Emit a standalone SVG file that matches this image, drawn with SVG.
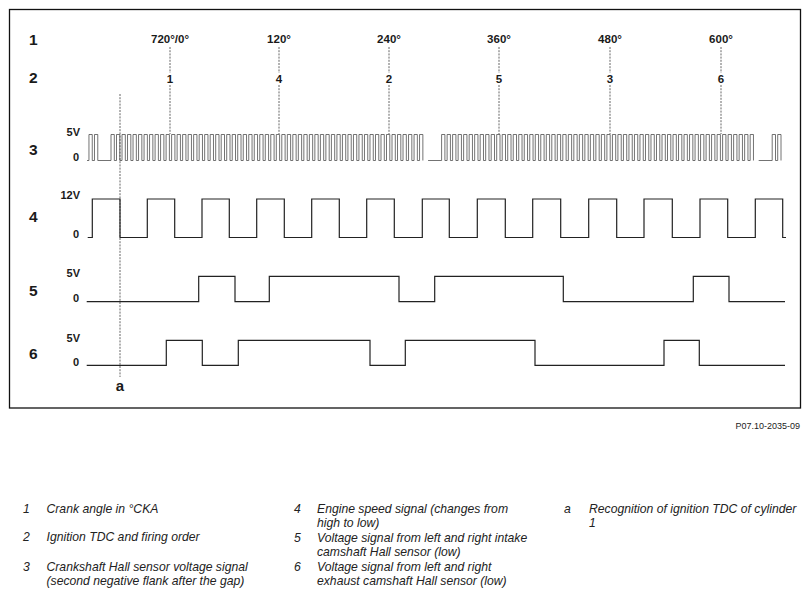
<svg xmlns="http://www.w3.org/2000/svg" xmlns:xlink="http://www.w3.org/1999/xlink" width="811" height="597" viewBox="0 0 811 597">
<style>
.lbl{font-family:"Liberation Sans",Arial,sans-serif;font-weight:bold;fill:#1a1a1a}
.row{font-size:15.5px}
.ang{font-size:11.5px;text-anchor:middle}
.volt{font-size:11px;text-anchor:end}
.leg{font-family:"Liberation Sans",Arial,sans-serif;font-style:italic;font-size:12.2px;fill:#222}
.sig{fill:none;stroke:#222;stroke-width:1.2;stroke-linejoin:miter}
.crank{fill:none;stroke:#444;stroke-width:0.75}
.dash{fill:none;stroke:#555;stroke-width:0.9;stroke-dasharray:2 1.2}
</style>
<defs>
<path id="teeth58" class="crank" d="M0,160.5v-26h3.3v26h2.21v-26h3.3v26h2.21v-26h3.3v26h2.21v-26h3.3v26h2.21v-26h3.3v26h2.21v-26h3.3v26h2.21v-26h3.3v26h2.21v-26h3.3v26h2.21v-26h3.3v26h2.21v-26h3.3v26h2.21v-26h3.3v26h2.21v-26h3.3v26h2.21v-26h3.3v26h2.21v-26h3.3v26h2.21v-26h3.3v26h2.21v-26h3.3v26h2.21v-26h3.3v26h2.21v-26h3.3v26h2.21v-26h3.3v26h2.21v-26h3.3v26h2.21v-26h3.3v26h2.21v-26h3.3v26h2.21v-26h3.3v26h2.21v-26h3.3v26h2.21v-26h3.3v26h2.21v-26h3.3v26h2.21v-26h3.3v26h2.21v-26h3.3v26h2.21v-26h3.3v26h2.21v-26h3.3v26h2.21v-26h3.3v26h2.21v-26h3.3v26h2.21v-26h3.3v26h2.21v-26h3.3v26h2.21v-26h3.3v26h2.21v-26h3.3v26h2.21v-26h3.3v26h2.21v-26h3.3v26h2.21v-26h3.3v26h2.21v-26h3.3v26h2.21v-26h3.3v26h2.21v-26h3.3v26h2.21v-26h3.3v26h2.21v-26h3.3v26h2.21v-26h3.3v26h2.21v-26h3.3v26h2.21v-26h3.3v26h2.21v-26h3.3v26h2.21v-26h3.3v26h2.21v-26h3.3v26h2.21v-26h3.3v26h2.21v-26h3.3v26h2.21v-26h3.3v26h2.21v-26h3.3v26h2.21v-26h3.3v26h2.21v-26h3.3v26h2.21v-26h3.3v26"/>
</defs>
<rect width="811" height="597" fill="#fff"/>
<rect id="frame" x="9.5" y="9.5" width="791" height="398.5" fill="none" stroke="#111" stroke-width="1.3"/>

<g id="row-labels" class="lbl row">
<text x="29" y="45">1</text>
<text x="29" y="83">2</text>
<text x="29" y="155">3</text>
<text x="29" y="222">4</text>
<text x="29" y="296">5</text>
<text x="29" y="359">6</text>
</g>

<g id="angles" class="lbl ang">
<text x="170" y="43">720°/0°</text>
<text x="279" y="43">120°</text>
<text x="389" y="43">240°</text>
<text x="499" y="43">360°</text>
<text x="610" y="43">480°</text>
<text x="721" y="43">600°</text>
</g>

<g id="firing" class="lbl ang">
<text x="170" y="82.5">1</text>
<text x="279" y="82.5">4</text>
<text x="389" y="82.5">2</text>
<text x="499" y="82.5">5</text>
<text x="610" y="82.5">3</text>
<text x="721" y="82.5">6</text>
</g>

<g id="voltage-labels" class="lbl volt">
<text x="80" y="136">5V</text>
<text x="79" y="160.5">0</text>
<text x="80" y="199">12V</text>
<text x="79" y="237.5">0</text>
<text x="80" y="277">5V</text>
<text x="79" y="301.5">0</text>
<text x="80" y="342">5V</text>
<text x="79" y="365.5">0</text>
</g>

<g id="connectors">
<path class="dash" d="M170,47V73M170,85V134M279,47V73M279,85V134M389,47V73M389,85V134M499,47V73M499,85V134M610,47V73M610,85V134M721,47V73M721,85V134"/>
<path class="dash" d="M120,94V377"/>
</g>

<g id="signal-3">
<path class="crank" d="M87,160.5H88.96v-26h3.3v26h2.21v-26h3.3v26H111M428.07,160.5H441.6M758.67,160.5H772.2v-26h3.3v26h2.21v-26h3.3v26"/>
<use xlink:href="#teeth58" href="#teeth58" x="111"/>
<use xlink:href="#teeth58" href="#teeth58" x="441.6"/>
</g>

<g id="signal-4">
<path class="sig" d="M87.7,237.5H92.3V199H120V237.5H147.3V199H174.7V237.5H202V199H229.3V237.5H256.7V199H284.3V237.5H311.7V199H339.3V237.5H366.7V199H394.3V237.5H422.3V199H449.3V237.5H477.3V199H505.3V237.5H532.7V199H560.7V237.5H588.7V199H616.7V237.5H644V199H672.3V237.5H700V199H727.7V237.5H755.3V199H782.7V237.5H786"/>
</g>

<g id="signal-5">
<path class="sig" d="M86.7,301.7H198.7V276.3H235V301.7H269.3V276.3H399V301.7H434.7V276.3H563.3V301.7H693.3V276.3H729V301.7H785"/>
</g>

<g id="signal-6">
<path class="sig" d="M86.7,365.3H166.3V340.3H202.3V365.3H238.3V340.3H370V365.3H405.3V340.3H535V365.3H664V340.3H699.3V365.3H785"/>
</g>

<g id="marker-a">
<text class="lbl" x="120" y="391" font-size="15" text-anchor="middle">a</text>
</g>

<text id="ref" x="800" y="429" font-family="'Liberation Sans',Arial,sans-serif" font-size="9" fill="#222" text-anchor="end">P07.10-2035-09</text>

<g id="legend" class="leg">
<text x="23" y="513">1</text>
<text x="46.5" y="513">Crank angle in °CKA</text>
<text x="23" y="541">2</text>
<text x="46.5" y="541">Ignition TDC and firing order</text>
<text x="23" y="570.5">3</text>
<text x="46.5" y="570.5">Crankshaft Hall sensor voltage signal</text>
<text x="46.5" y="585">(second negative flank after the gap)</text>
<text x="294" y="513">4</text>
<text x="317" y="513">Engine speed signal (changes from</text>
<text x="317" y="527">high to low)</text>
<text x="294" y="541.5">5</text>
<text x="317" y="541.5">Voltage signal from left and right intake</text>
<text x="317" y="556">camshaft Hall sensor (low)</text>
<text x="294" y="570.5">6</text>
<text x="317" y="570.5">Voltage signal from left and right</text>
<text x="317" y="585">exhaust camshaft Hall sensor (low)</text>
<text x="564" y="513">a</text>
<text x="589" y="513">Recognition of ignition TDC of cylinder</text>
<text x="589" y="527">1</text>
</g>
</svg>
